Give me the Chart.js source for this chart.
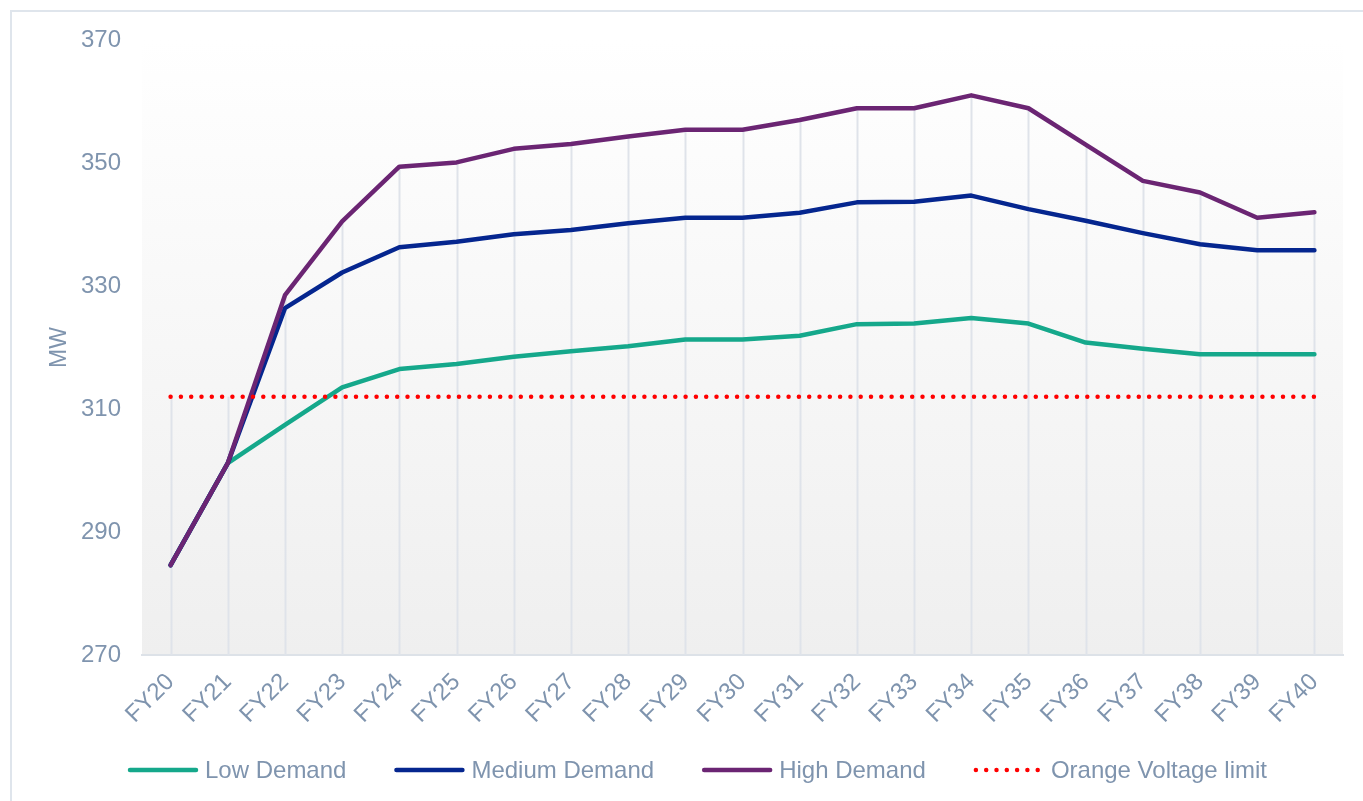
<!DOCTYPE html>
<html>
<head>
<meta charset="utf-8">
<script src="https://cdn.jsdelivr.net/npm/chart.js@4.4.1/dist/chart.umd.min.js"></script>
<style>
  html, body { margin: 0; padding: 0; background: #ffffff; overflow: hidden; }
  #frame { position: absolute; left: 10px; top: 10px; width: 1400px; height: 850px;
           border: 2px solid #dfe5ec; box-sizing: border-box; }
  #wrap { position: absolute; left: 0; top: 0; width: 1363px; height: 801px; }
</style>
</head>
<body>
<div id="frame"></div>
<div id="wrap"><canvas id="chart" width="1363" height="801"></canvas></div>
<script>
// Financial years on the x axis
const years = ['FY20', 'FY21', 'FY22', 'FY23', 'FY24', 'FY25', 'FY26', 'FY27', 'FY28', 'FY29', 'FY30',
               'FY31', 'FY32', 'FY33', 'FY34', 'FY35', 'FY36', 'FY37', 'FY38', 'FY39', 'FY40'];

// Peak demand forecasts (MW)
const lowDemand    = [284.6, 301.2, 307.4, 313.5, 316.5, 317.3, 318.5, 319.4, 320.2, 321.3, 321.3,
                      321.9, 323.8, 323.9, 324.8, 323.9, 320.8, 319.8, 318.9, 318.9, 318.9];
const mediumDemand = [284.6, 301.2, 326.4, 332.2, 336.3, 337.2, 338.4, 339.1, 340.2, 341.1, 341.1,
                      341.9, 343.6, 343.7, 344.7, 342.5, 340.6, 338.6, 336.8, 335.8, 335.8];
const highDemand   = [284.6, 301.2, 328.5, 340.5, 349.4, 350.1, 352.3, 353.1, 354.3, 355.4, 355.4,
                      357.0, 358.9, 358.9, 361.0, 358.9, 353.0, 347.1, 345.2, 341.1, 342.0];
const voltageLimit = [312, 312, 312, 312, 312, 312, 312, 312, 312, 312, 312,
                      312, 312, 312, 312, 312, 312, 312, 312, 312, 312];

// Y axis tick values
const yTicks = [270, 290, 310, 330, 350, 370];

const textColor = '#7f94ae';
const fontFamily = '"Liberation Sans", Arial, sans-serif';
const fontSize = 24;

// Soft vertical gradient behind the plot area
const plotBackground = {
  id: 'plotBackground',
  beforeDraw(chart) {
    const { ctx, chartArea: a } = chart;
    const g = ctx.createLinearGradient(0, a.top, 0, a.bottom);
    g.addColorStop(0, '#ffffff');
    g.addColorStop(0.12, '#fdfdfd');
    g.addColorStop(1, '#efefef');
    ctx.save();
    ctx.fillStyle = g;
    ctx.fillRect(a.left, a.top, a.right - a.left, a.bottom - a.top);
    ctx.restore();
  }
};

// Drop lines from the highest series at each year down to the axis
const dropLines = {
  id: 'dropLines',
  beforeDatasetsDraw(chart) {
    const { ctx, chartArea, scales: { x, y } } = chart;
    const sets = chart.data.datasets;
    ctx.save();
    ctx.strokeStyle = '#dfe3ea';
    ctx.lineWidth = 2;
    chart.data.labels.forEach((_, i) => {
      const top = Math.max(...sets.map(d => d.data[i]));
      const px = Math.round(x.getPixelForValue(i)) + 0.5;
      ctx.beginPath();
      ctx.moveTo(px, y.getPixelForValue(top));
      ctx.lineTo(px, chartArea.bottom);
      ctx.stroke();
    });
    ctx.restore();
  }
};

// Legend row beneath the axis labels
const lineLegend = {
  id: 'lineLegend',
  afterDraw(chart) {
    const { ctx } = chart;
    const y = 770;
    const sampleLen = 70, textGap = 77, itemGap = 48;
    let x0 = 128;
    ctx.save();
    ctx.font = fontSize + 'px ' + fontFamily;
    ctx.textBaseline = 'middle';
    ctx.textAlign = 'left';
    chart.data.datasets.forEach(ds => {
      ctx.strokeStyle = ds.borderColor;
      ctx.lineWidth = ds.borderWidth;
      ctx.lineCap = 'round';
      ctx.beginPath();
      if (ds.borderDash && ds.borderDash.length) {
        ctx.setLineDash(ds.borderDash);
        ctx.moveTo(x0 + 2, y);
        ctx.lineTo(x0 + sampleLen - 4, y);
      } else {
        ctx.setLineDash([]);
        ctx.moveTo(x0 + 2, y);
        ctx.lineTo(x0 + sampleLen - 2, y);
      }
      ctx.stroke();
      ctx.fillStyle = textColor;
      const tx = x0 + textGap;
      ctx.fillText(ds.label, tx, y + 1);
      x0 = tx + ctx.measureText(ds.label).width + itemGap;
    });
    ctx.restore();
  }
};

const lineStyle = {
  borderWidth: 4.5,
  pointRadius: 0,
  pointHoverRadius: 0,
  tension: 0,
  fill: false,
  borderJoinStyle: 'round',
  borderCapStyle: 'round'
};

new Chart(document.getElementById('chart'), {
  type: 'line',
  data: {
    labels: years,
    datasets: [
      { label: 'Low Demand', data: lowDemand, borderColor: '#15a88b', order: 3, ...lineStyle },
      { label: 'Medium Demand', data: mediumDemand, borderColor: '#05268f', order: 2, ...lineStyle },
      { label: 'High Demand', data: highDemand, borderColor: '#6b2573', order: 1, ...lineStyle },
      { label: 'Orange Voltage limit', data: voltageLimit, borderColor: '#ff0000', order: 0,
        ...lineStyle, borderWidth: 4.5, borderDash: [0, 10.3], borderCapStyle: 'round' }
    ]
  },
  options: {
    responsive: false,
    animation: false,
    events: [],
    layout: { padding: { left: 35, right: 20, top: 40, bottom: 76 } },
    plugins: {
      legend: { display: false },
      tooltip: { enabled: false },
      title: { display: false }
    },
    scales: {
      x: {
        type: 'category',
        offset: true,
        grid: { display: true, color: 'transparent', drawTicks: false, offset: false },
        border: { display: true, color: '#dde2e8', width: 2 },
        ticks: {
          color: textColor,
          font: { family: fontFamily, size: fontSize },
          minRotation: 45,
          maxRotation: 45,
          autoSkip: false,
          padding: 13
        },
        afterFit(scale) { scale.height = 70; }
      },
      y: {
        min: 270,
        max: 370,
        grid: { display: true, color: 'transparent', drawTicks: false },
        border: { display: false },
        afterBuildTicks(scale) { scale.ticks = yTicks.map(v => ({ value: v })); },
        ticks: {
          color: textColor,
          font: { family: fontFamily, size: fontSize },
          padding: 21
        },
        title: {
          display: true,
          text: 'MW',
          color: textColor,
          font: { family: fontFamily, size: 23 },
          padding: { top: 11, bottom: 0 }
        },
        afterFit(scale) { scale.width = 107; }
      }
    }
  },
  plugins: [plotBackground, dropLines, lineLegend]
});
</script>
</body>
</html>
